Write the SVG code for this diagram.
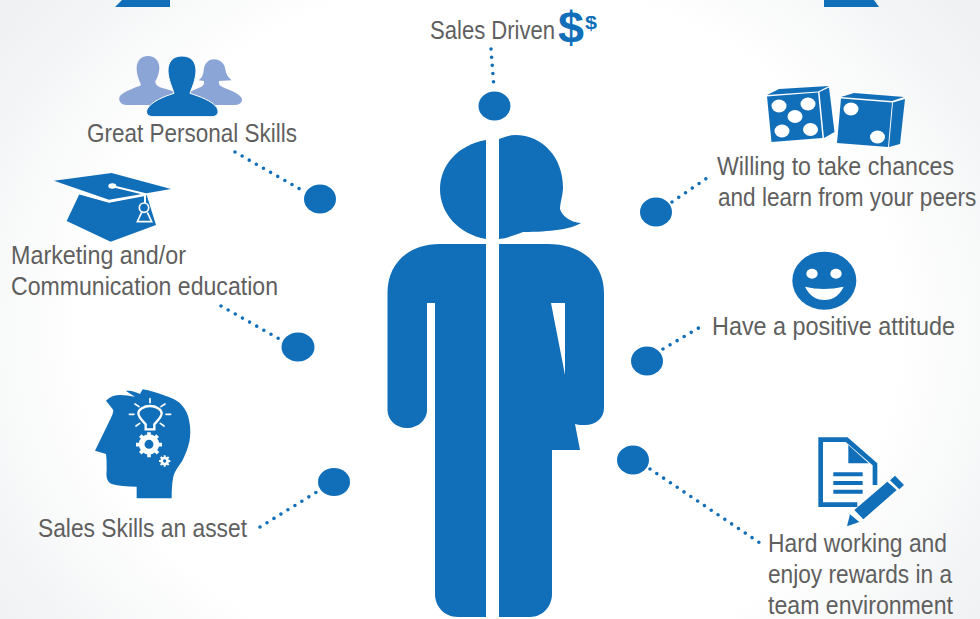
<svg xmlns="http://www.w3.org/2000/svg" width="980" height="619" viewBox="0 0 980 619">
<style>
.b{fill:#116eb8}.l{fill:#8aa5d6}.w{fill:#fff}
.t{font-family:"Liberation Sans",Arial,sans-serif;font-size:25.5px;fill:#5f5f5f}
.d{fill:none;stroke:#116eb8;stroke-width:3.6;stroke-linecap:round;stroke-dasharray:0 8.2}
.ws{fill:none;stroke:#fff;stroke-width:5;stroke-linecap:round}
</style>
<defs><radialGradient id="bg" gradientUnits="userSpaceOnUse" cx="490" cy="330" r="600" gradientTransform="translate(490 330) scale(1 .85) translate(-490 -330)"><stop offset=".68" stop-color="#fff"/><stop offset="1" stop-color="#eff1f2"/></radialGradient></defs>
<rect width="980" height="619" fill="url(#bg)"/>
<path class="b" d="M115,7H170V0H122Z"/>
<path class="b" d="M824,7H879L874,0H824Z"/>
<g id="connectors">
<path class="d" d="M491,49L494,88"/>
<path class="d" d="M235,152L305,192"/>
<path class="d" d="M221,306L283,341"/>
<path class="d" d="M260,527L320,490"/>
<path class="d" d="M672,202L710,176"/>
<path class="d" d="M663,349L702,326"/>
<path class="d" d="M650,469L760,543"/>
</g>
<g id="figure">
<path class="b" d="M486,140C458,145 440,165 440,189C440,213 458,234 486,239Z"/>
<path class="b" d="M499,139C505,137 510,135 515,135C543,135 563,158 563,187C563,195 560,203 560,209C562,216 570,222 581,223C572,229 550,232 523,232C515,235 508,238 499,239Z"/>
<path class="b" d="M486,244V617H458C444,617 435,606 435,594V303H427V410C427,420 418,428 407,428C396,428 387.500,420 387.500,410V293C387.500,262 410,244 440,244Z"/>
<path class="b" fill-rule="evenodd" d="M499,244H548C580,244 604,262 604,293V408C604,418 596,425 585,425C581,425 578,425 575,424L580,450H552V594C552,606 543,617 530,617H499ZM551,303L565,375V303Z"/>
</g>
<g id="node-sales-driven">
<ellipse class="b" cx="494.500" cy="106" rx="16" ry="14.500"/>
<text class="t" transform="translate(430 39) scale(.9 1)" textLength="139" lengthAdjust="spacingAndGlyphs">Sales Driven</text>
<text x="558" y="43" font-family="Liberation Sans,Arial,sans-serif" font-weight="700" font-size="44" fill="#116eb8" textLength="26" lengthAdjust="spacingAndGlyphs">$</text>
<text x="585" y="29" font-family="Liberation Sans,Arial,sans-serif" font-weight="700" font-size="19" fill="#116eb8" textLength="12" lengthAdjust="spacingAndGlyphs">$</text>
</g>
<g id="node-personal">
<ellipse class="b" cx="320" cy="199" rx="16" ry="14.500"/>
<text class="t" x="87" y="142" textLength="210" lengthAdjust="spacingAndGlyphs">Great Personal Skills</text>
<g transform="translate(80 0) scale(.3333)">
<path class="l" d="M204,168C182,168 170,184 170,205C170,228 180,245 183,256C160,265 130,276 120,288C113,300 122,315 140,315H280L300,280L240,262C228,256 226,250 226,244C234,230 238,215 238,203C238,184 226,168 204,168Z"/>
<path class="l" d="M402,178C385,178 372,192 371,212C370,225 364,235 356,241L372,243C373,250 372,256 364,260L320,280L345,315H465C483,315 492,300 482,290C470,276 440,268 422,258C417,254 416,248 417,243L455,241C445,232 437,222 436,208C435,192 420,178 402,178Z"/>
<path class="b" d="M306,168C278,168 264,186 264,212C264,238 278,265 282,280C250,290 215,305 203,325C194,340 204,350 220,350H395C412,350 420,338 410,322C395,302 360,290 330,280C335,265 348,238 348,212C348,186 334,168 306,168Z" stroke="#fff" stroke-width="3"/>
</g>
</g>
<g id="node-marketing">
<ellipse class="b" cx="298" cy="347" rx="16.500" ry="14.500"/>
<text class="t" x="11" y="264" textLength="175" lengthAdjust="spacingAndGlyphs">Marketing and/or</text>
<text class="t" x="11" y="295" textLength="267" lengthAdjust="spacingAndGlyphs">Communication education</text>
<g transform="translate(40 165) scale(.3333)">
<path class="b" d="M118,88L80,168L212,230L348,180L320,90L207,112Z"/>
<path class="b" d="M42,47L215,24L393,72L207,104Z"/>
<path d="M118,85L207,110L315,90M215,63L315,87V114" fill="none" stroke="#fff" stroke-width="6"/>
<ellipse class="w" cx="217" cy="63" rx="12" ry="8"/>
<circle cx="312" cy="128" r="14" class="b" stroke="#fff" stroke-width="5"/>
<path d="M305,142L292,170H335L322,142" fill="none" stroke="#fff" stroke-width="5"/>
</g>
</g>
<g id="node-sales-skills">
<ellipse class="b" cx="334" cy="482" rx="16" ry="14"/>
<text class="t" x="38" y="537" textLength="209" lengthAdjust="spacingAndGlyphs">Sales Skills an asset</text>
<g transform="translate(80 380) scale(.3333)">
<path class="b" d="M275,355H170V320C140,320 115,318 95,312C80,305 78,290 80,270C80,250 80,235 78,222L45,212L85,130C95,110 100,100 100,90L78,62C90,50 105,45 120,45C135,45 150,48 165,50L138,33C150,30 165,35 180,42L188,28C210,32 230,38 250,45C270,52 290,60 300,70C318,88 325,105 328,125C332,145 332,165 328,185C322,210 315,225 308,240C300,255 285,270 280,290C276,310 275,330 275,355Z"/>
<path d="M197,133C190,125 175,112 175,100C175,88 192,78 210,78C228,78 245,88 245,100C245,112 230,125 223,133V148H197Z" class="b" stroke="#fff" stroke-width="7"/>
<path class="ws" d="M210,56V68M165,72L177,80M255,72L243,80M148,103H162M272,103H258M168,138L179,130M252,138L241,130"/>
<circle cx="207" cy="193" r="22" fill="none" stroke="#fff" stroke-width="17"/>
<path class="ws" style="stroke-width:11;stroke-linecap:butt" d="M207,157V172M207,214V232M168,194H186M228,194H246M181,167L192,178M222,208L234,220M233,167L222,178M192,208L181,220"/>
<circle cx="254" cy="243" r="9" fill="none" stroke="#fff" stroke-width="8"/>
<path class="ws" style="stroke-width:6;stroke-linecap:butt" d="M254,226V236M254,250V260M237,243H247M261,243H271M242,231L249,238M259,248L266,255M266,231L259,238M249,248L242,255"/>
</g>
</g>
<g id="node-chances">
<ellipse class="b" cx="656" cy="212" rx="16" ry="14.500"/>
<text class="t" x="717" y="175" textLength="237" lengthAdjust="spacingAndGlyphs">Willing to take chances</text>
<text class="t" transform="translate(718 206) scale(.9 1)" textLength="287" lengthAdjust="spacingAndGlyphs">and learn from your peers</text>
<path class="b" d="M767,95L779,89L829,86L818,91.500Z"/>
<path class="b" d="M767,96.500L818,92.500L822.500,138L771.500,142Z"/>
<path class="b" d="M819.500,92L829,87.500L834.500,132L824,138Z"/>
<g class="w"><ellipse cx="779" cy="106" rx="7.500" ry="6.500"/><ellipse cx="808" cy="104" rx="7.500" ry="6.500"/><ellipse cx="795" cy="116.500" rx="7.500" ry="6.500"/><ellipse cx="782" cy="131" rx="7.500" ry="6.500"/><ellipse cx="810.500" cy="129.500" rx="7.500" ry="6.500"/></g>
<path class="b" d="M841,97L854,93L904,97L892,101Z"/>
<path class="b" d="M841,98.500L892,102.500L888,147L837,143Z"/>
<path class="b" d="M893,102.500L905,99L900,144L889,147Z"/>
<g class="w"><ellipse cx="851" cy="109" rx="7.500" ry="6.500"/><ellipse cx="877.500" cy="137" rx="7.500" ry="6.500"/></g>
</g>
<g id="node-attitude">
<ellipse class="b" cx="647" cy="361" rx="16" ry="14.500"/>
<text class="t" x="712" y="335" textLength="243" lengthAdjust="spacingAndGlyphs">Have a positive attitude</text>
<g transform="translate(780 240) scale(.3333)">
<ellipse class="b" cx="133" cy="122" rx="96" ry="87"/>
<ellipse class="w" cx="96" cy="101" rx="17" ry="15"/><ellipse class="w" cx="168" cy="101" rx="17" ry="15"/>
<path class="w" d="M75,140Q130,154 191,140Q172,180 133,180Q95,180 75,140Z"/>
</g>
</g>
<g id="node-hard-working">
<ellipse class="b" cx="633" cy="460" rx="16" ry="14.500"/>
<text class="t" x="768" y="552" textLength="179" lengthAdjust="spacingAndGlyphs">Hard working and</text>
<text class="t" x="768" y="583" textLength="184" lengthAdjust="spacingAndGlyphs">enjoy rewards in a</text>
<text class="t" x="768" y="614" textLength="185" lengthAdjust="spacingAndGlyphs">team environment</text>
<g transform="translate(800 430) scale(.3333)">
<path d="M225,165V103L140,29H62V224H172" fill="none" stroke="#116eb8" stroke-width="14"/>
<path class="b" d="M145,45V100H206ZM100,127H188V139H100ZM100,153H188V165H100ZM100,179H188V191H100Z"/>
<path class="b" d="M262,155L290,180L190,268L163,240ZM285,137L312,165L298,178L270,151ZM150,253L178,276L141,289Z"/>
</g>
</g>
</svg>
